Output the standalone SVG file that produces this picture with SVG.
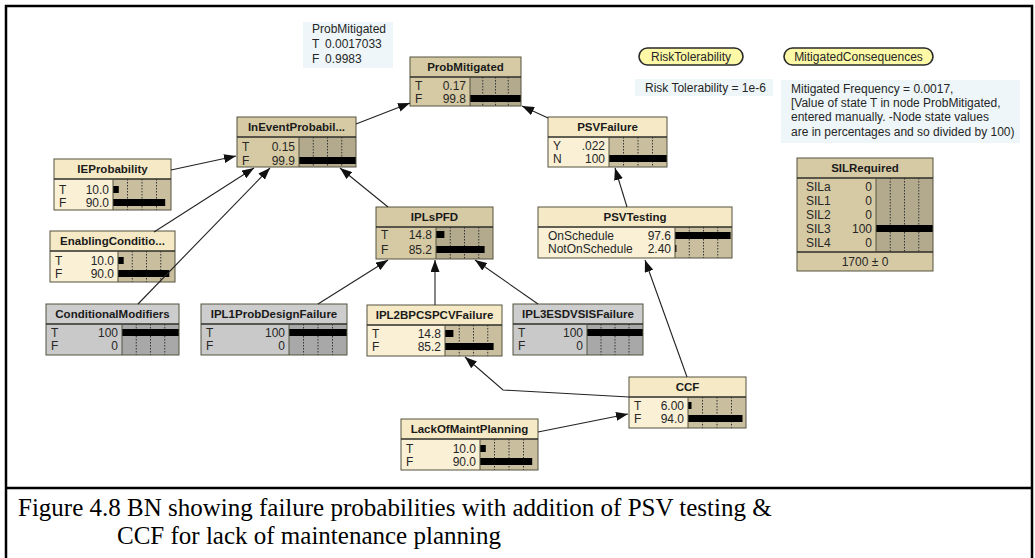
<svg xmlns="http://www.w3.org/2000/svg" width="1035" height="558" viewBox="0 0 1035 558">
<defs>
<marker id="ah" markerUnits="userSpaceOnUse" markerWidth="12" markerHeight="9" refX="12" refY="4.5" orient="auto">
<path d="M0,0 L12,4.5 L0,9 z" fill="#111"/>
</marker>
<style>
.frame{fill:none;stroke:#000;stroke-width:2.5}
.ol{fill:none;stroke:#55533f;stroke-width:1}
.sep{stroke:#2e2e2a;stroke-width:1.3}
.bl{stroke:#55533f;stroke-width:1}
.cream .tt{fill:#f6eac6}.cream .bd{fill:#f9f0d6}.cream .ba{fill:#c9bf9f}
.tan .tt{fill:#d6caa4}.tan .bd{fill:#d6caa4}.tan .ba{fill:#b3aa8e}
.gray .tt{fill:#cdcdcd}.gray .bd{fill:#c9c9c9}.gray .ba{fill:#a8a8a8}
.grid{stroke:#333;stroke-width:1;stroke-dasharray:1.5 1.5}
.bar{fill:#000}
.t{font-family:"Liberation Sans",Arial,sans-serif;font-size:11.5px;font-weight:bold;text-anchor:middle;fill:#1a1a1a}
.l{font-family:"Liberation Sans",Arial,sans-serif;font-size:12px;fill:#262626}
.v{font-family:"Liberation Sans",Arial,sans-serif;font-size:12px;fill:#262626;text-anchor:end}
.note{fill:#eef6f9}
.pill{fill:#fdf9a6;stroke:#2a2a2a;stroke-width:1.6}
.pt{font-family:"Liberation Sans",Arial,sans-serif;font-size:12px;fill:#262626;text-anchor:middle}
.edge{fill:none;stroke:#222;stroke-width:1.1;marker-end:url(#ah)}
.cap{font-family:"Liberation Serif","Times New Roman",serif;font-size:25px;fill:#000}
</style>
</defs>
<rect width="1035" height="558" fill="#fff"/>
<rect class="frame" x="6" y="6" width="1026" height="560"/>
<line class="frame" x1="5" y1="488" x2="1033" y2="488"/>

<g id="note-probmitigated">
<rect class="note" x="303" y="22" width="90" height="46"/>
<text class="l" x="312" y="33">ProbMitigated</text>
<text class="l" x="312" y="48">T</text><text class="l" x="325" y="48">0.0017033</text>
<text class="l" x="312" y="63">F</text><text class="l" x="325" y="63">0.9983</text>
</g>
<g id="RiskTolerability">
<rect class="pill" x="639" y="48" width="104" height="17" rx="8.5"/>
<text class="pt" x="691" y="61">RiskTolerability</text>
</g>
<g id="MitigatedConsequences">
<rect class="pill" x="784" y="48" width="149" height="17" rx="8.5"/>
<text class="pt" x="858.5" y="61">MitigatedConsequences</text>
</g>
<g id="note-risk">
<rect class="note" x="635" y="79" width="138" height="17"/>
<text class="l" x="645" y="92">Risk Tolerability = 1e-6</text>
</g>
<g id="note-mitigated">
<rect class="note" x="781" y="80" width="239" height="63"/>
<text class="l" x="791" y="93">Mitigated Frequency = 0.0017,</text>
<text class="l" x="791" y="107">[Value of state T  in node ProbMitigated,</text>
<text class="l" x="791" y="121">entered manually. -Node state values</text>
<text class="l" x="791" y="136">are in percentages and so divided by 100)</text>
</g>

<g id="ProbMitigated" class="tan">
<rect class="bd" x="410" y="77" width="111" height="29"/><rect class="ba" x="470" y="77" width="51" height="29"/><rect class="tt" x="410" y="57" width="111" height="20"/>
<line class="grid" x1="482.75" y1="77" x2="482.75" y2="106"/><line class="grid" x1="495.5" y1="77" x2="495.5" y2="106"/><line class="grid" x1="508.25" y1="77" x2="508.25" y2="106"/>
<rect class="bar" x="470" y="95" width="51" height="7"/>
<rect class="ol" x="410" y="57" width="111" height="49"/><line class="sep" x1="410" y1="77" x2="521" y2="77"/><line class="bl" x1="470" y1="77" x2="470" y2="106"/>
<text class="t" x="465.5" y="71">ProbMitigated</text>
<text class="l" x="415" y="90">T</text><text class="v" x="466" y="90">0.17</text>
<text class="l" x="415" y="103">F</text><text class="v" x="466" y="103">99.8</text>
</g>

<g id="InEventProbability" class="tan">
<rect class="bd" x="237" y="137" width="119" height="30"/><rect class="ba" x="299" y="137" width="57" height="30"/><rect class="tt" x="237" y="117" width="119" height="20"/>
<line class="grid" x1="313.25" y1="137" x2="313.25" y2="167"/><line class="grid" x1="327.5" y1="137" x2="327.5" y2="167"/><line class="grid" x1="341.75" y1="137" x2="341.75" y2="167"/>
<rect class="bar" x="299" y="157" width="57" height="7"/>
<rect class="ol" x="237" y="117" width="119" height="50"/><line class="sep" x1="237" y1="137" x2="356" y2="137"/><line class="bl" x1="299" y1="137" x2="299" y2="167"/>
<text class="t" x="296.5" y="131">InEventProbabil...</text>
<text class="l" x="242" y="151">T</text><text class="v" x="295" y="151">0.15</text>
<text class="l" x="242" y="165">F</text><text class="v" x="295" y="165">99.9</text>
</g>

<g id="IEProbability" class="cream">
<rect class="bd" x="54" y="179" width="117" height="31"/><rect class="ba" x="113" y="179" width="58" height="31"/><rect class="tt" x="54" y="159" width="117" height="20"/>
<line class="grid" x1="127.5" y1="179" x2="127.5" y2="210"/><line class="grid" x1="142" y1="179" x2="142" y2="210"/><line class="grid" x1="156.5" y1="179" x2="156.5" y2="210"/>
<rect class="bar" x="113" y="186" width="5.8" height="7"/><rect class="bar" x="113" y="199" width="52.2" height="7"/>
<rect class="ol" x="54" y="159" width="117" height="51"/><line class="sep" x1="54" y1="179" x2="171" y2="179"/><line class="bl" x1="113" y1="179" x2="113" y2="210"/>
<text class="t" x="112.5" y="173">IEProbability</text>
<text class="l" x="59" y="194">T</text><text class="v" x="109" y="194">10.0</text>
<text class="l" x="59" y="207">F</text><text class="v" x="109" y="207">90.0</text>
</g>

<g id="EnablingConditions" class="cream">
<rect class="bd" x="50" y="251" width="125" height="31"/><rect class="ba" x="118" y="251" width="57" height="31"/><rect class="tt" x="50" y="231" width="125" height="20"/>
<line class="grid" x1="132.25" y1="251" x2="132.25" y2="282"/><line class="grid" x1="146.5" y1="251" x2="146.5" y2="282"/><line class="grid" x1="160.75" y1="251" x2="160.75" y2="282"/>
<rect class="bar" x="118" y="257" width="5.7" height="7"/><rect class="bar" x="118" y="270" width="51.3" height="7"/>
<rect class="ol" x="50" y="231" width="125" height="51"/><line class="sep" x1="50" y1="251" x2="175" y2="251"/><line class="bl" x1="118" y1="251" x2="118" y2="282"/>
<text class="t" x="112.5" y="245">EnablingConditio...</text>
<text class="l" x="55" y="265">T</text><text class="v" x="114" y="265">10.0</text>
<text class="l" x="55" y="278">F</text><text class="v" x="114" y="278">90.0</text>
</g>

<g id="ConditionalModifiers" class="gray">
<rect class="bd" x="46" y="324" width="133" height="31"/><rect class="ba" x="122" y="324" width="57" height="31"/><rect class="tt" x="46" y="304" width="133" height="20"/>
<line class="grid" x1="136.25" y1="324" x2="136.25" y2="355"/><line class="grid" x1="150.5" y1="324" x2="150.5" y2="355"/><line class="grid" x1="164.75" y1="324" x2="164.75" y2="355"/>
<rect class="bar" x="122" y="329" width="57" height="7"/>
<rect class="ol" x="46" y="304" width="133" height="51"/><line class="sep" x1="46" y1="324" x2="179" y2="324"/><line class="bl" x1="122" y1="324" x2="122" y2="355"/>
<text class="t" x="112.5" y="318">ConditionalModifiers</text>
<text class="l" x="51" y="337">T</text><text class="v" x="118" y="337">100</text>
<text class="l" x="51" y="350">F</text><text class="v" x="118" y="350">0</text>
</g>

<g id="IPL1ProbDesignFailure" class="gray">
<rect class="bd" x="201" y="324" width="146" height="31"/><rect class="ba" x="289" y="324" width="58" height="31"/><rect class="tt" x="201" y="304" width="146" height="20"/>
<line class="grid" x1="303.5" y1="324" x2="303.5" y2="355"/><line class="grid" x1="318" y1="324" x2="318" y2="355"/><line class="grid" x1="332.5" y1="324" x2="332.5" y2="355"/>
<rect class="bar" x="289" y="329" width="58" height="7"/>
<rect class="ol" x="201" y="304" width="146" height="51"/><line class="sep" x1="201" y1="324" x2="347" y2="324"/><line class="bl" x1="289" y1="324" x2="289" y2="355"/>
<text class="t" x="274" y="318">IPL1ProbDesignFailure</text>
<text class="l" x="206" y="337">T</text><text class="v" x="285" y="337">100</text>
<text class="l" x="206" y="350">F</text><text class="v" x="285" y="350">0</text>
</g>

<g id="IPL2BPCSPCVFailure" class="cream">
<rect class="bd" x="367" y="325" width="135" height="31"/><rect class="ba" x="445" y="325" width="57" height="31"/><rect class="tt" x="367" y="305" width="135" height="20"/>
<line class="grid" x1="459.25" y1="325" x2="459.25" y2="356"/><line class="grid" x1="473.5" y1="325" x2="473.5" y2="356"/><line class="grid" x1="487.75" y1="325" x2="487.75" y2="356"/>
<rect class="bar" x="445" y="330" width="8.4" height="7"/><rect class="bar" x="445" y="343" width="48.6" height="7"/>
<rect class="ol" x="367" y="305" width="135" height="51"/><line class="sep" x1="367" y1="325" x2="502" y2="325"/><line class="bl" x1="445" y1="325" x2="445" y2="356"/>
<text class="t" x="434.5" y="319">IPL2BPCSPCVFailure</text>
<text class="l" x="372" y="338">T</text><text class="v" x="441" y="338">14.8</text>
<text class="l" x="372" y="351">F</text><text class="v" x="441" y="351">85.2</text>
</g>

<g id="IPL3ESDVSISFailure" class="gray">
<rect class="bd" x="513" y="324" width="130" height="31"/><rect class="ba" x="587" y="324" width="56" height="31"/><rect class="tt" x="513" y="304" width="130" height="20"/>
<line class="grid" x1="601" y1="324" x2="601" y2="355"/><line class="grid" x1="615" y1="324" x2="615" y2="355"/><line class="grid" x1="629" y1="324" x2="629" y2="355"/>
<rect class="bar" x="587" y="329" width="56" height="7"/>
<rect class="ol" x="513" y="304" width="130" height="51"/><line class="sep" x1="513" y1="324" x2="643" y2="324"/><line class="bl" x1="587" y1="324" x2="587" y2="355"/>
<text class="t" x="578" y="318">IPL3ESDVSISFailure</text>
<text class="l" x="518" y="337">T</text><text class="v" x="583" y="337">100</text>
<text class="l" x="518" y="350">F</text><text class="v" x="583" y="350">0</text>
</g>

<g id="IPLsPFD" class="tan">
<rect class="bd" x="376" y="227" width="117" height="32"/><rect class="ba" x="436" y="227" width="57" height="32"/><rect class="tt" x="376" y="207" width="117" height="20"/>
<line class="grid" x1="450.25" y1="227" x2="450.25" y2="259"/><line class="grid" x1="464.5" y1="227" x2="464.5" y2="259"/><line class="grid" x1="478.75" y1="227" x2="478.75" y2="259"/>
<rect class="bar" x="436" y="231" width="8.4" height="7"/><rect class="bar" x="436" y="246" width="48.6" height="7"/>
<rect class="ol" x="376" y="207" width="117" height="52"/><line class="sep" x1="376" y1="227" x2="493" y2="227"/><line class="bl" x1="436" y1="227" x2="436" y2="259"/>
<text class="t" x="434.5" y="221">IPLsPFD</text>
<text class="l" x="381" y="239">T</text><text class="v" x="432" y="239">14.8</text>
<text class="l" x="381" y="254">F</text><text class="v" x="432" y="254">85.2</text>
</g>

<g id="PSVTesting" class="cream">
<rect class="bd" x="538" y="227" width="194" height="31"/><rect class="ba" x="675" y="227" width="57" height="31"/><rect class="tt" x="538" y="207" width="194" height="20"/>
<line class="grid" x1="689.25" y1="227" x2="689.25" y2="258"/><line class="grid" x1="703.5" y1="227" x2="703.5" y2="258"/><line class="grid" x1="717.75" y1="227" x2="717.75" y2="258"/>
<rect class="bar" x="675" y="232" width="55.6" height="7"/><rect class="bar" x="675" y="245" width="1.4" height="7"/>
<rect class="ol" x="538" y="207" width="194" height="51"/><line class="sep" x1="538" y1="227" x2="732" y2="227"/><line class="bl" x1="675" y1="227" x2="675" y2="258"/>
<text class="t" x="635" y="221">PSVTesting</text>
<text class="l" x="548" y="240">OnSchedule</text><text class="v" x="671" y="240">97.6</text>
<text class="l" x="548" y="253">NotOnSchedule</text><text class="v" x="671" y="253">2.40</text>
</g>

<g id="CCF" class="cream">
<rect class="bd" x="629" y="397" width="117" height="31"/><rect class="ba" x="688" y="397" width="58" height="31"/><rect class="tt" x="629" y="377" width="117" height="20"/>
<line class="grid" x1="702.5" y1="397" x2="702.5" y2="428"/><line class="grid" x1="717" y1="397" x2="717" y2="428"/><line class="grid" x1="731.5" y1="397" x2="731.5" y2="428"/>
<rect class="bar" x="688" y="402" width="3.5" height="7"/><rect class="bar" x="688" y="415" width="54.5" height="7"/>
<rect class="ol" x="629" y="377" width="117" height="51"/><line class="sep" x1="629" y1="397" x2="746" y2="397"/><line class="bl" x1="688" y1="397" x2="688" y2="428"/>
<text class="t" x="687.5" y="391">CCF</text>
<text class="l" x="634" y="410">T</text><text class="v" x="684" y="410">6.00</text>
<text class="l" x="634" y="423">F</text><text class="v" x="684" y="423">94.0</text>
</g>

<g id="LackOfMaintPlanning" class="cream">
<rect class="bd" x="401" y="439" width="137" height="31"/><rect class="ba" x="480" y="439" width="58" height="31"/><rect class="tt" x="401" y="419" width="137" height="20"/>
<line class="grid" x1="494.5" y1="439" x2="494.5" y2="470"/><line class="grid" x1="509" y1="439" x2="509" y2="470"/><line class="grid" x1="523.5" y1="439" x2="523.5" y2="470"/>
<rect class="bar" x="480" y="445" width="5.8" height="7"/><rect class="bar" x="480" y="458" width="52.2" height="7"/>
<rect class="ol" x="401" y="419" width="137" height="51"/><line class="sep" x1="401" y1="439" x2="538" y2="439"/><line class="bl" x1="480" y1="439" x2="480" y2="470"/>
<text class="t" x="469.5" y="433">LackOfMaintPlanning</text>
<text class="l" x="406" y="453">T</text><text class="v" x="476" y="453">10.0</text>
<text class="l" x="406" y="466">F</text><text class="v" x="476" y="466">90.0</text>
</g>

<g id="PSVFailure" class="cream">
<rect class="bd" x="548" y="137" width="119" height="30"/><rect class="ba" x="609" y="137" width="58" height="30"/><rect class="tt" x="548" y="117" width="119" height="20"/>
<line class="grid" x1="623.5" y1="137" x2="623.5" y2="167"/><line class="grid" x1="638" y1="137" x2="638" y2="167"/><line class="grid" x1="652.5" y1="137" x2="652.5" y2="167"/>
<rect class="bar" x="609" y="155" width="58" height="7"/>
<rect class="ol" x="548" y="117" width="119" height="50"/><line class="sep" x1="548" y1="137" x2="667" y2="137"/><line class="bl" x1="609" y1="137" x2="609" y2="167"/>
<text class="t" x="607.5" y="131">PSVFailure</text>
<text class="l" x="553" y="150">Y</text><text class="v" x="605" y="150">.022</text>
<text class="l" x="553" y="163">N</text><text class="v" x="605" y="163">100</text>
</g>

<g id="SILRequired" class="tan">
<rect class="bd" x="797" y="178" width="136" height="93"/><rect class="ba" x="876" y="178" width="57" height="74"/><rect class="tt" x="797" y="158" width="136" height="20"/>
<line class="grid" x1="890.25" y1="178" x2="890.25" y2="252"/><line class="grid" x1="904.5" y1="178" x2="904.5" y2="252"/><line class="grid" x1="918.75" y1="178" x2="918.75" y2="252"/>
<rect class="bar" x="876" y="225" width="57" height="7"/>
<rect class="ol" x="797" y="158" width="136" height="113"/><line class="sep" x1="797" y1="178" x2="933" y2="178"/><line class="sep" x1="797" y1="252" x2="933" y2="252"/><line class="bl" x1="876" y1="178" x2="876" y2="252"/>
<text class="t" x="865" y="172">SILRequired</text>
<text class="l" x="806" y="191">SILa</text><text class="v" x="872" y="191">0</text>
<text class="l" x="806" y="205">SIL1</text><text class="v" x="872" y="205">0</text>
<text class="l" x="806" y="219">SIL2</text><text class="v" x="872" y="219">0</text>
<text class="l" x="806" y="233">SIL3</text><text class="v" x="872" y="233">100</text>
<text class="l" x="806" y="247">SIL4</text><text class="v" x="872" y="247">0</text>
<text class="pt" x="865" y="266">1700 ± 0</text>
</g>

<g id="connectors">
<path class="edge" d="M356,124 L410,103"/>
<path class="edge" d="M548,118 L522,106"/>
<path class="edge" d="M171,170 L236,156"/>
<path class="edge" d="M154,232 L254,168"/>
<path class="edge" d="M138,304 L270,168"/>
<path class="edge" d="M388,207 L340,168"/>
<path class="edge" d="M318,304 L388,260"/>
<path class="edge" d="M435,305 L435,260"/>
<path class="edge" d="M538,304 L475,260"/>
<path class="edge" d="M629,397 L503,390 L465,357"/>
<path class="edge" d="M538,432 L628,414"/>
<path class="edge" d="M687,377 L645,260"/>
<path class="edge" d="M627,207 L615,168"/>
</g>

<g id="caption">
<text class="cap" x="18" y="516">Figure 4.8 BN showing failure probabilities with addition of PSV testing &amp;</text>
<text class="cap" x="117" y="544">CCF for lack of maintenance planning</text>
</g>
</svg>
